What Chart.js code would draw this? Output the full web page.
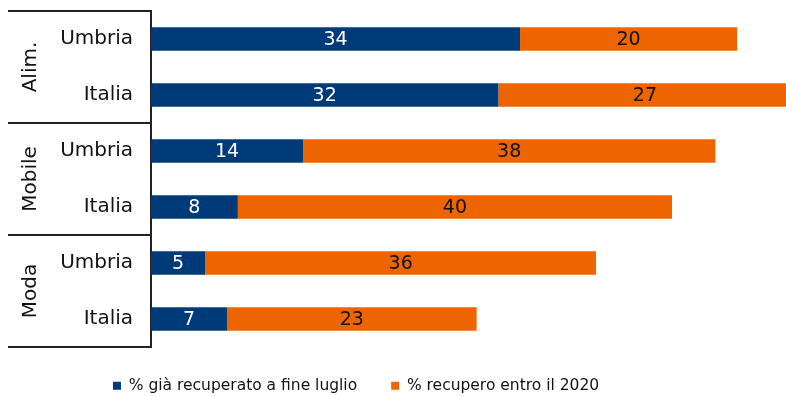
<!DOCTYPE html>
<html>
<head>
<meta charset="utf-8">
<script src="https://cdn.jsdelivr.net/npm/chart.js@4/dist/chart.umd.min.js"></script>
<style>
  html, body { margin: 0; padding: 0; background: #fff; }
  #wrap { width: 786px; height: 396px; }
</style>
</head>
<body>
<div id="wrap"><canvas id="grafico"></canvas></div>
<script>
var righe = ['Umbria', 'Italia', 'Umbria', 'Italia', 'Umbria', 'Italia'];
var gruppi = ['Alim.', 'Mobile', 'Moda'];
var recuperato = [34, 32, 14, 8, 5, 7];
var entro2020 = [20, 27, 38, 40, 36, 23];
var serie = ['% già recuperato a fine luglio', '% recupero entro il 2020'];

var BLU = '#003b79';
var ARANCIO = '#ec6500';
var FONT = "'DejaVu Sans', sans-serif";

// etichette dentro le barre
var etichette = {
    id: 'etichette',
    afterDatasetsDraw: function (chart) {
        var ctx = chart.ctx;
        ctx.save();
        ctx.font = '19px ' + FONT;
        ctx.textAlign = 'center';
        ctx.textBaseline = 'middle';
        chart.data.datasets.forEach(function (ds, i) {
            var meta = chart.getDatasetMeta(i);
            ctx.fillStyle = i == 0 ? '#ffffff' : '#111111';
            meta.data.forEach(function (bar, j) {
                var x = (bar.x + bar.base) / 2;
                ctx.fillText(ds.data[j], x, bar.y + 1);
            });
        });
        ctx.restore();
    }
};

// linee dei gruppi e nomi ruotati a sinistra
var gruppiPlugin = {
    id: 'gruppi',
    afterDraw: function (chart) {
        var ctx = chart.ctx;
        var y = chart.scales.y;
        var area = chart.chartArea;
        ctx.save();
        ctx.strokeStyle = '#222';
        ctx.lineWidth = 2;
        var linee = [area.top];
        for (var g = 0; g < gruppi.length; g++) {
            var a = y.getPixelForValue(g * 2);
            var b = y.getPixelForValue(g * 2 + 1);
            if (g > 0) linee.push(a - (b - a) / 2);
            ctx.save();
            ctx.translate(31, (a + b) / 2);
            ctx.rotate(-Math.PI / 2);
            ctx.font = '20px ' + FONT;
            ctx.fillStyle = '#111';
            ctx.textAlign = 'center';
            ctx.textBaseline = 'middle';
            ctx.fillText(gruppi[g], 0, 0);
            ctx.restore();
        }
        linee.push(area.bottom);
        linee.forEach(function (ly) {
            ctx.beginPath();
            ctx.moveTo(8, ly);
            ctx.lineTo(area.left, ly);
            ctx.stroke();
        });
        ctx.restore();
    }
};

// sposta la legenda dove sta nel grafico originale
var spostaLegenda = {
    id: 'spostaLegenda',
    afterLayout: function (chart) {
        var lg = chart.legend;
        if (!lg || !lg.lineWidths) return;
        var pad = lg.options.labels.padding;
        var x0 = (lg.left + pad + lg.right - lg.lineWidths[0]) / 2;
        var dx = 113 - x0;
        lg.left += dx;
        lg.right += dx;
        lg.top = 386 - pad - 8;
    }
};

var ctx = document.getElementById('grafico').getContext('2d');
var grafico = new Chart(ctx, {
    type: 'bar',
    data: {
        labels: righe,
        datasets: [{
            label: serie[0],
            data: recuperato,
            backgroundColor: BLU,
            barPercentage: 0.42,
            categoryPercentage: 1
        }, {
            label: serie[1],
            data: entro2020,
            backgroundColor: ARANCIO,
            barPercentage: 0.42,
            categoryPercentage: 1
        }]
    },
    options: {
        indexAxis: 'y',
        responsive: true,
        maintainAspectRatio: false,
        animation: false,
        layout: { padding: { top: 11, left: 0, right: 0, bottom: 0 } },
        scales: {
            x: {
                stacked: true,
                display: false,
                min: 0,
                max: 58.5
            },
            y: {
                stacked: true,
                grid: { display: false, drawTicks: false },
                border: { display: true, color: '#222', width: 2 },
                ticks: {
                    color: '#111',
                    padding: 18,
                    font: { family: FONT, size: 20 }
                },
                afterFit: function (scale) {
                    scale.width = 151;
                    scale.paddingTop = 0;
                    scale.paddingBottom = 0;
                }
            }
        },
        plugins: {
            tooltip: { enabled: false },
            legend: {
                position: 'bottom',
                maxHeight: 49,
                labels: {
                    boxWidth: 8,
                    boxHeight: 8,
                    padding: 34,
                    color: '#111',
                    font: { family: FONT, size: 15.5 }
                }
            }
        }
    },
    plugins: [etichette, gruppiPlugin, spostaLegenda]
});
</script>
</body>
</html>
